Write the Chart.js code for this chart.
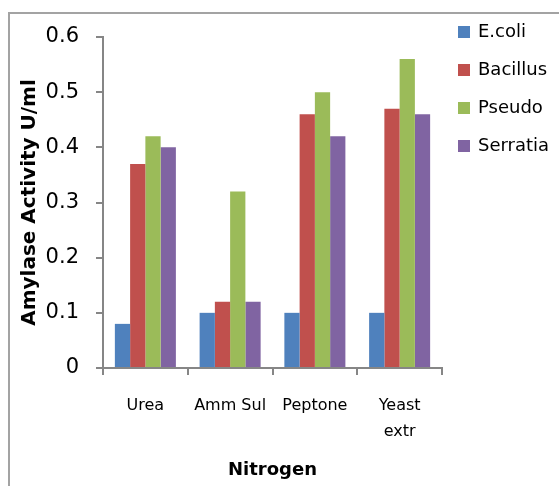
<!DOCTYPE html>
<html>
<head>
<meta charset="utf-8">
<script src="https://cdn.jsdelivr.net/npm/chart.js@4"></script>
<style>
  html, body { margin: 0; padding: 0; background: #fff; }
  #wrap { position: relative; width: 559px; height: 486px; overflow: hidden; }
  #frame { position: absolute; left: 8px; top: 12px; width: 700px; height: 700px;
           border: 2px solid #a3a3a3; box-sizing: border-box; }
  canvas { position: absolute; left: 0; top: 0; }
</style>
</head>
<body>
<div id="wrap">
  <div id="frame"></div>
  <canvas id="c" width="559" height="486"></canvas>
</div>
<script>
// Nitrogen sources and amylase activity (U/ml) per organism
const categories = [["Urea"], ["Amm Sul"], ["Peptone"], ["Yeast", "extr"]];
const seriesNames = ["E.coli", "Bacillus", "Pseudo", "Serratia"];
const ecoli    = [0.08, 0.10, 0.10, 0.10];
const bacillus = [0.37, 0.12, 0.46, 0.47];
const pseudo   = [0.42, 0.32, 0.50, 0.56];
const serratia = [0.40, 0.12, 0.42, 0.46];
const yTicks   = [0, 0.1, 0.2, 0.3, 0.4, 0.5, 0.6];

const colors = ["#4F81BD", "#C0504D", "#9BBB59", "#8064A2"];
const seriesValues = [ecoli, bacillus, pseudo, serratia];

const FONT = "'DejaVu Sans', sans-serif";
const AXIS = "#868686";

// Legend drawn on the right, one swatch per dataset
const sideLegend = {
  id: "sideLegend",
  afterDraw(chart) {
    const ctx = chart.ctx;
    ctx.save();
    ctx.font = "18px " + FONT;
    ctx.textBaseline = "middle";
    ctx.textAlign = "left";
    chart.data.datasets.forEach((ds, i) => {
      const y = 32 + i * 38;
      ctx.fillStyle = ds.backgroundColor;
      ctx.fillRect(458, y - 6, 12, 12);
      ctx.fillStyle = "#000";
      ctx.fillText(ds.label, 478, y);
    });
    ctx.restore();
  }
};

new Chart(document.getElementById("c"), {
  type: "bar",
  data: {
    labels: categories,
    datasets: seriesNames.map((name, i) => ({
      label: name,
      data: seriesValues[i],
      backgroundColor: colors[i],
      borderWidth: 0,
      categoryPercentage: 0.72,
      barPercentage: 1.0
    }))
  },
  options: {
    responsive: false,
    animation: false,
    layout: { padding: { left: 0, top: 37, right: 117, bottom: 0 } },
    plugins: { legend: { display: false }, tooltip: { enabled: false } },
    scales: {
      x: {
        offset: true,
        grid: { offset: true, drawOnChartArea: false, drawTicks: true, tickLength: 7, color: AXIS, lineWidth: 2 },
        border: { color: AXIS, width: 2 },
        ticks: { color: "#000", font: { family: FONT, size: 16, lineHeight: 1.6 }, padding: 18, maxRotation: 0, autoSkip: false },
        title: { display: true, text: "Nitrogen", color: "#000",
                 font: { family: FONT, size: 18, weight: "bold", lineHeight: 1.2 },
                 padding: { top: 0, bottom: 5 } },
        afterFit(scale) { scale.height = 118; }
      },
      y: {
        min: 0, max: 0.6,
        afterBuildTicks(scale) { scale.ticks = yTicks.map(v => ({ value: v })); },
        grid: { drawOnChartArea: false, drawTicks: true, tickLength: 7, color: AXIS, lineWidth: 2 },
        border: { color: AXIS, width: 2 },
        ticks: { color: "#000", font: { family: FONT, size: 21 }, padding: 17,
                 callback: v => (v === 0 ? "0" : v.toFixed(1)) },
        title: { display: true, text: "Amylase Activity U/ml", color: "#000",
                 font: { family: FONT, size: 20, weight: "bold", lineHeight: 1.2 },
                 padding: { top: 18, bottom: 0 } },
        afterFit(scale) { scale.width = 103; }
      }
    }
  },
  plugins: [sideLegend]
});
</script>
</body>
</html>
